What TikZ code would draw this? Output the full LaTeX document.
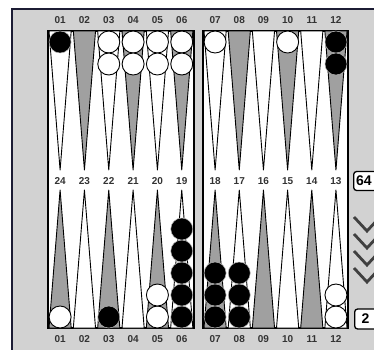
\documentclass[tikz,border=0pt]{standalone}
\usepackage{fontspec}
\setsansfont{Liberation Sans}
\usepackage{tikz}
\usetikzlibrary{positioning}
\definecolor{cStipple}{HTML}{D2D2D2}
\definecolor{cPointGrey}{HTML}{A0A0A0}
\definecolor{cFrame}{HTML}{1C1C34}

\begin{document}
\begin{tikzpicture}[
  x=1pt, y=-1pt,
  every node/.style={font=\sffamily\bfseries\fontsize{10}{10}\selectfont, inner sep=0pt},
  tray/.style={fill=cStipple},
  field/.style={draw=black, line width=1.3pt, fill=white},
  whitept/.style={draw=black, line width=0.9pt, fill=white, line join=round},
  greypt/.style={draw=black, line width=0.9pt, fill=cPointGrey, line join=round},
  whitechk/.style={draw=black, line width=0.9pt, fill=white},
  blackchk/.style={draw=gray!55, line width=0.5pt, fill=black},
  ptnum/.style={text=black!80},
  cubebox/.style={draw=black, line width=1.3pt, fill=white, rounded corners=3pt,
                  font=\sffamily\bfseries\fontsize{14}{14}\selectfont},
  chev/.style={draw=black!75, line width=2.8pt},
]
  \useasboundingbox (0,0) rectangle (374,349);
  \begin{scope}
    \clip (0,0) rectangle (374,349);

    % board, bar and tray
    \fill[tray] (12,9) rectangle (390,360);
    \draw[cFrame, line width=1.8pt] (12,360) -- (12,9) -- (390,9);

    % the two playing fields
    \draw[field] (48,31) rectangle (194,328);
    \draw[field] (203,31) rectangle (348,328);

    % points and their numbers
    \foreach \i in {1,...,12} {
      \pgfmathsetmacro\xo{\i<7 ? 48+(\i-1)*24.33 : 203+(\i-7)*24.17}
      \pgfmathsetmacro\xc{\xo+12.1}
      \pgfmathtruncatemacro\lbl{25-\i}
      \ifodd\i
        \draw[whitept] (\xo+1,31) -- (\xc,170) -- (\xo+23.2,31) -- cycle;
        \draw[greypt] (\xo+1,328) -- (\xc,190) -- (\xo+23.2,328) -- cycle;
      \else
        \draw[greypt] (\xo+1,31) -- (\xc,170) -- (\xo+23.2,31) -- cycle;
        \draw[whitept] (\xo+1,328) -- (\xc,190) -- (\xo+23.2,328) -- cycle;
      \fi
      \node[ptnum] (top\i) at (\xc,20) {\ifnum\i<10 0\fi\i};
      \node[ptnum] (mid\i) at (\xc,181) {\lbl};
      \node[ptnum] (bot\i) at (\xc,339) {\ifnum\i<10 0\fi\i};
    }

    % checkers on the upper points
    \foreach \p/\n/\c in {1/1/blackchk, 3/2/whitechk, 4/2/whitechk, 5/2/whitechk,
                          6/2/whitechk, 7/1/whitechk, 10/1/whitechk, 12/2/blackchk} {
      \pgfmathsetmacro\xc{\p<7 ? 48+(\p-1)*24.33+12.1 : 203+(\p-7)*24.17+12.1}
      \foreach \k in {1,...,\n}
        \draw[\c] (\xc,20+22*\k) circle (11);
    }

    % checkers on the lower points
    \foreach \p/\n/\c in {1/1/whitechk, 3/1/blackchk, 5/2/whitechk, 6/5/blackchk,
                          7/3/blackchk, 8/3/blackchk, 12/2/whitechk} {
      \pgfmathsetmacro\xc{\p<7 ? 48+(\p-1)*24.33+12.1 : 203+(\p-7)*24.17+12.1}
      \foreach \k in {1,...,\n}
        \draw[\c] (\xc,339-22*\k) circle (11);
    }

    % doubling cube, arrows and dice count
    \node[cubebox, minimum height=19pt, anchor=west] (cube) at (353,181)
      {\makebox[30pt][l]{\hspace{2.5pt}64}};
    \foreach \y in {231,248,265,282}
      \draw[chev] (354,\y-14) -- (367,\y) -- (380,\y-14);
    \node[cubebox, minimum height=20pt, anchor=west] (dice) at (354,319)
      {\makebox[30pt][l]{\hspace{7pt}2}};
  \end{scope}
\end{tikzpicture}
\end{document}
